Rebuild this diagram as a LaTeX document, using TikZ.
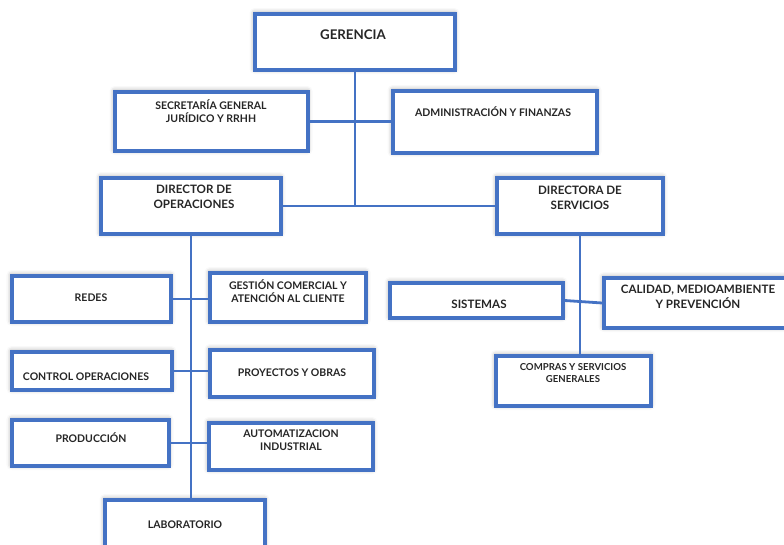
\documentclass[tikz,border=0pt]{standalone}
\usepackage{fontspec}
\setmainfont{Lato}
\usepackage{tikz}
\usetikzlibrary{calc,shadows.blur}
\definecolor{OrgBlue}{HTML}{4472C4}
% box from its corners, in pixels
\newcommand{\orgbox}[5]{\node[box,minimum width={#4-#2},minimum height={#5-#3}] (#1) at ({(#2+#4)/2},{(#3+#5)/2}) {};}

\begin{document}
\begin{tikzpicture}[x=1pt,y=-1pt,
    box/.style={draw=OrgBlue,line width=3.6pt,fill=white,inner sep=0pt,
      blur shadow={shadow xshift=-0.5pt,shadow yshift=1pt,shadow blur radius=5pt,shadow opacity=40}},
    lbl/.style={font=\bfseries\fontsize{10.5}{13}\selectfont,align=center,text=black!85},
    big/.style={lbl,font=\bfseries\fontsize{13.3}{15}\selectfont},
    mid/.style={lbl,font=\bfseries\fontsize{11.6}{14.5}\selectfont},
    small/.style={lbl,font=\bfseries\fontsize{9.6}{12.5}\selectfont},
    link/.style={OrgBlue,line width=2.8pt}]
    \useasboundingbox (0,0) rectangle (784,544);
    \clip (0,0) rectangle (784,544);

    \orgbox{gerencia}{255}{14}{455}{70}
    \orgbox{secretaria}{115}{92}{308}{151}
    \orgbox{admin}{393}{91}{597}{153}
    \orgbox{dirop}{101}{178}{281}{234}
    \orgbox{dirserv}{497}{178}{663}{234}
    \orgbox{redes}{12}{276}{171}{322}
    \orgbox{gestion}{210}{273}{366}{322}
    \orgbox{sistemas}{390}{283}{563}{318}
    \orgbox{calidad}{604}{278}{795}{328}
    \orgbox{control}{12}{352}{172}{390}
    \orgbox{proyectos}{210}{350}{374}{397}
    \orgbox{produccion}{12}{420}{169}{466}
    \orgbox{automat}{209}{423}{373}{470}
    \orgbox{compras}{496}{356}{651}{406}
    \orgbox{lab}{105}{500}{265}{560}

    \node[big]   (gerencia-t)   at (353,35)  {GERENCIA};
    \node[lbl]   (secretaria-t) at (211,111) {SECRETARÍA GENERAL\\JURÍDICO Y RRHH};
    \node[lbl]   (admin-t)      at (493,112) {ADMINISTRACIÓN Y FINANZAS};
    \node[mid]   (dirop-t)      at (194,197) {DIRECTOR DE\\OPERACIONES};
    \node[mid]   (dirserv-t)    at (580,198) {DIRECTORA DE\\SERVICIOS};
    \node[lbl]   (redes-t)      at (91,298)  {REDES};
    \node[lbl]   (gestion-t)    at (288,291) {GESTIÓN COMERCIAL Y\\ATENCIÓN AL CLIENTE};
    \node[mid]   (sistemas-t)   at (479,304) {SISTEMAS};
    \node[mid]   (calidad-t)    at (698,297) {CALIDAD, MEDIOAMBIENTE\\Y PREVENCIÓN};
    \node[lbl]   (control-t)    at (86,377)  {CONTROL OPERACIONES};
    \node[lbl]   (proyectos-t)  at (292,373) {PROYECTOS Y OBRAS};
    \node[lbl]   (produccion-t) at (91,438)  {PRODUCCIÓN};
    \node[lbl]   (automat-t)    at (291,440) {AUTOMATIZACION\\INDUSTRIAL};
    \node[small] (compras-t)    at (573,373) {COMPRAS Y SERVICIOS\\GENERALES};
    \node[lbl]   (lab-t)        at (185,525) {LABORATORIO};

    % connectors
    \draw[link] (gerencia.south) -- (gerencia.south |- dirop.east);
    \draw[link] (dirop.east) -- (dirop.east -| dirserv.west);
    \draw[link] (secretaria.east) -- (secretaria.east -| admin.west);
    \draw[link] (dirop.south) -- (dirop.south |- lab.north);
    \draw[link] (redes.east) -- (redes.east -| gestion.west);
    \draw[link] (control.east) -- (control.east -| proyectos.west);
    \draw[link] (produccion.east) -- (produccion.east -| automat.west);
    \draw[link] (dirserv.south) -- (dirserv.south |- compras.north);
    \draw[link] (sistemas.east) -- (calidad.west);
\end{tikzpicture}
\end{document}
